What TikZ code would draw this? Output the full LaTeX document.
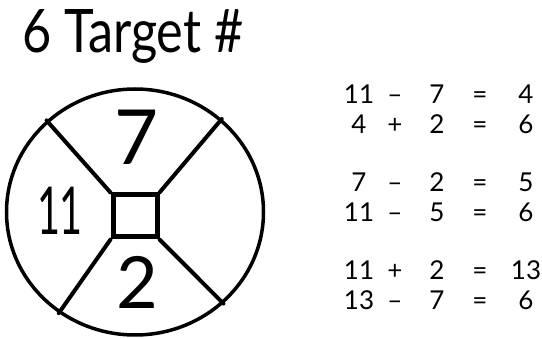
\documentclass[tikz,border=0pt]{standalone}
\usepackage{fontspec}
\setmainfont{Lato}
\usetikzlibrary{shapes.geometric}

\begin{document}
\begin{tikzpicture}[x=1pt,y=-1pt,
    eqn/.style={anchor=base,inner sep=0,font=\fontsize{26}{30}\selectfont},
    spoke/.style={line width=4pt,line cap=round}]
    \useasboundingbox (0,0) rectangle (542,339);

    % Title
    \node[anchor=base west,inner sep=0,xscale=0.84,font=\fontsize{60}{66}\selectfont] (title) at (22,53) {6 Target \#};

    % Draw the target
    \node[ellipse,draw,line width=3.5pt,minimum width=257,minimum height=246,inner sep=0] (ring) at (135,212) {};
    \node[rectangle,draw,line width=5pt,minimum width=44,minimum height=42,inner sep=0] (box) at (135,216) {};

    % Spokes from the box to the ring
    \draw[spoke] (box.north west) -- (ring.134);
    \draw[spoke] (box.north east) -- (ring.47);
    \draw[spoke] (box.south west) -- (ring.233);
    \draw[spoke] (box.south east) -- (ring.-46);

    % Numbers in the target
    \node[font=\fontsize{76}{80}\selectfont] (top) at (137,137) {7};
    \node[font=\fontsize{66}{70}\selectfont,xscale=0.6] (left) at (60,211) {11};
    \node[font=\fontsize{72}{76}\selectfont] (bottom) at (137,282) {2};

    % Equations
    \foreach \a/\op/\b/\c/\y [count=\i] in {11/–/7/4/95, 4/+/2/6/125,
        7/–/2/5/183, 11/–/5/6/213, 11/+/2/13/271, 13/–/7/6/301} {
        \node[eqn] (a\i) at (359,\y+9) {\a};
        \node[eqn] (op\i) at (395,\y+9) {\op};
        \node[eqn] (b\i) at (437,\y+9) {\b};
        \node[eqn] (eq\i) at (480,\y+9) {=};
        \node[eqn] (c\i) at (526,\y+9) {\c};
    }

\end{tikzpicture}
\end{document}
